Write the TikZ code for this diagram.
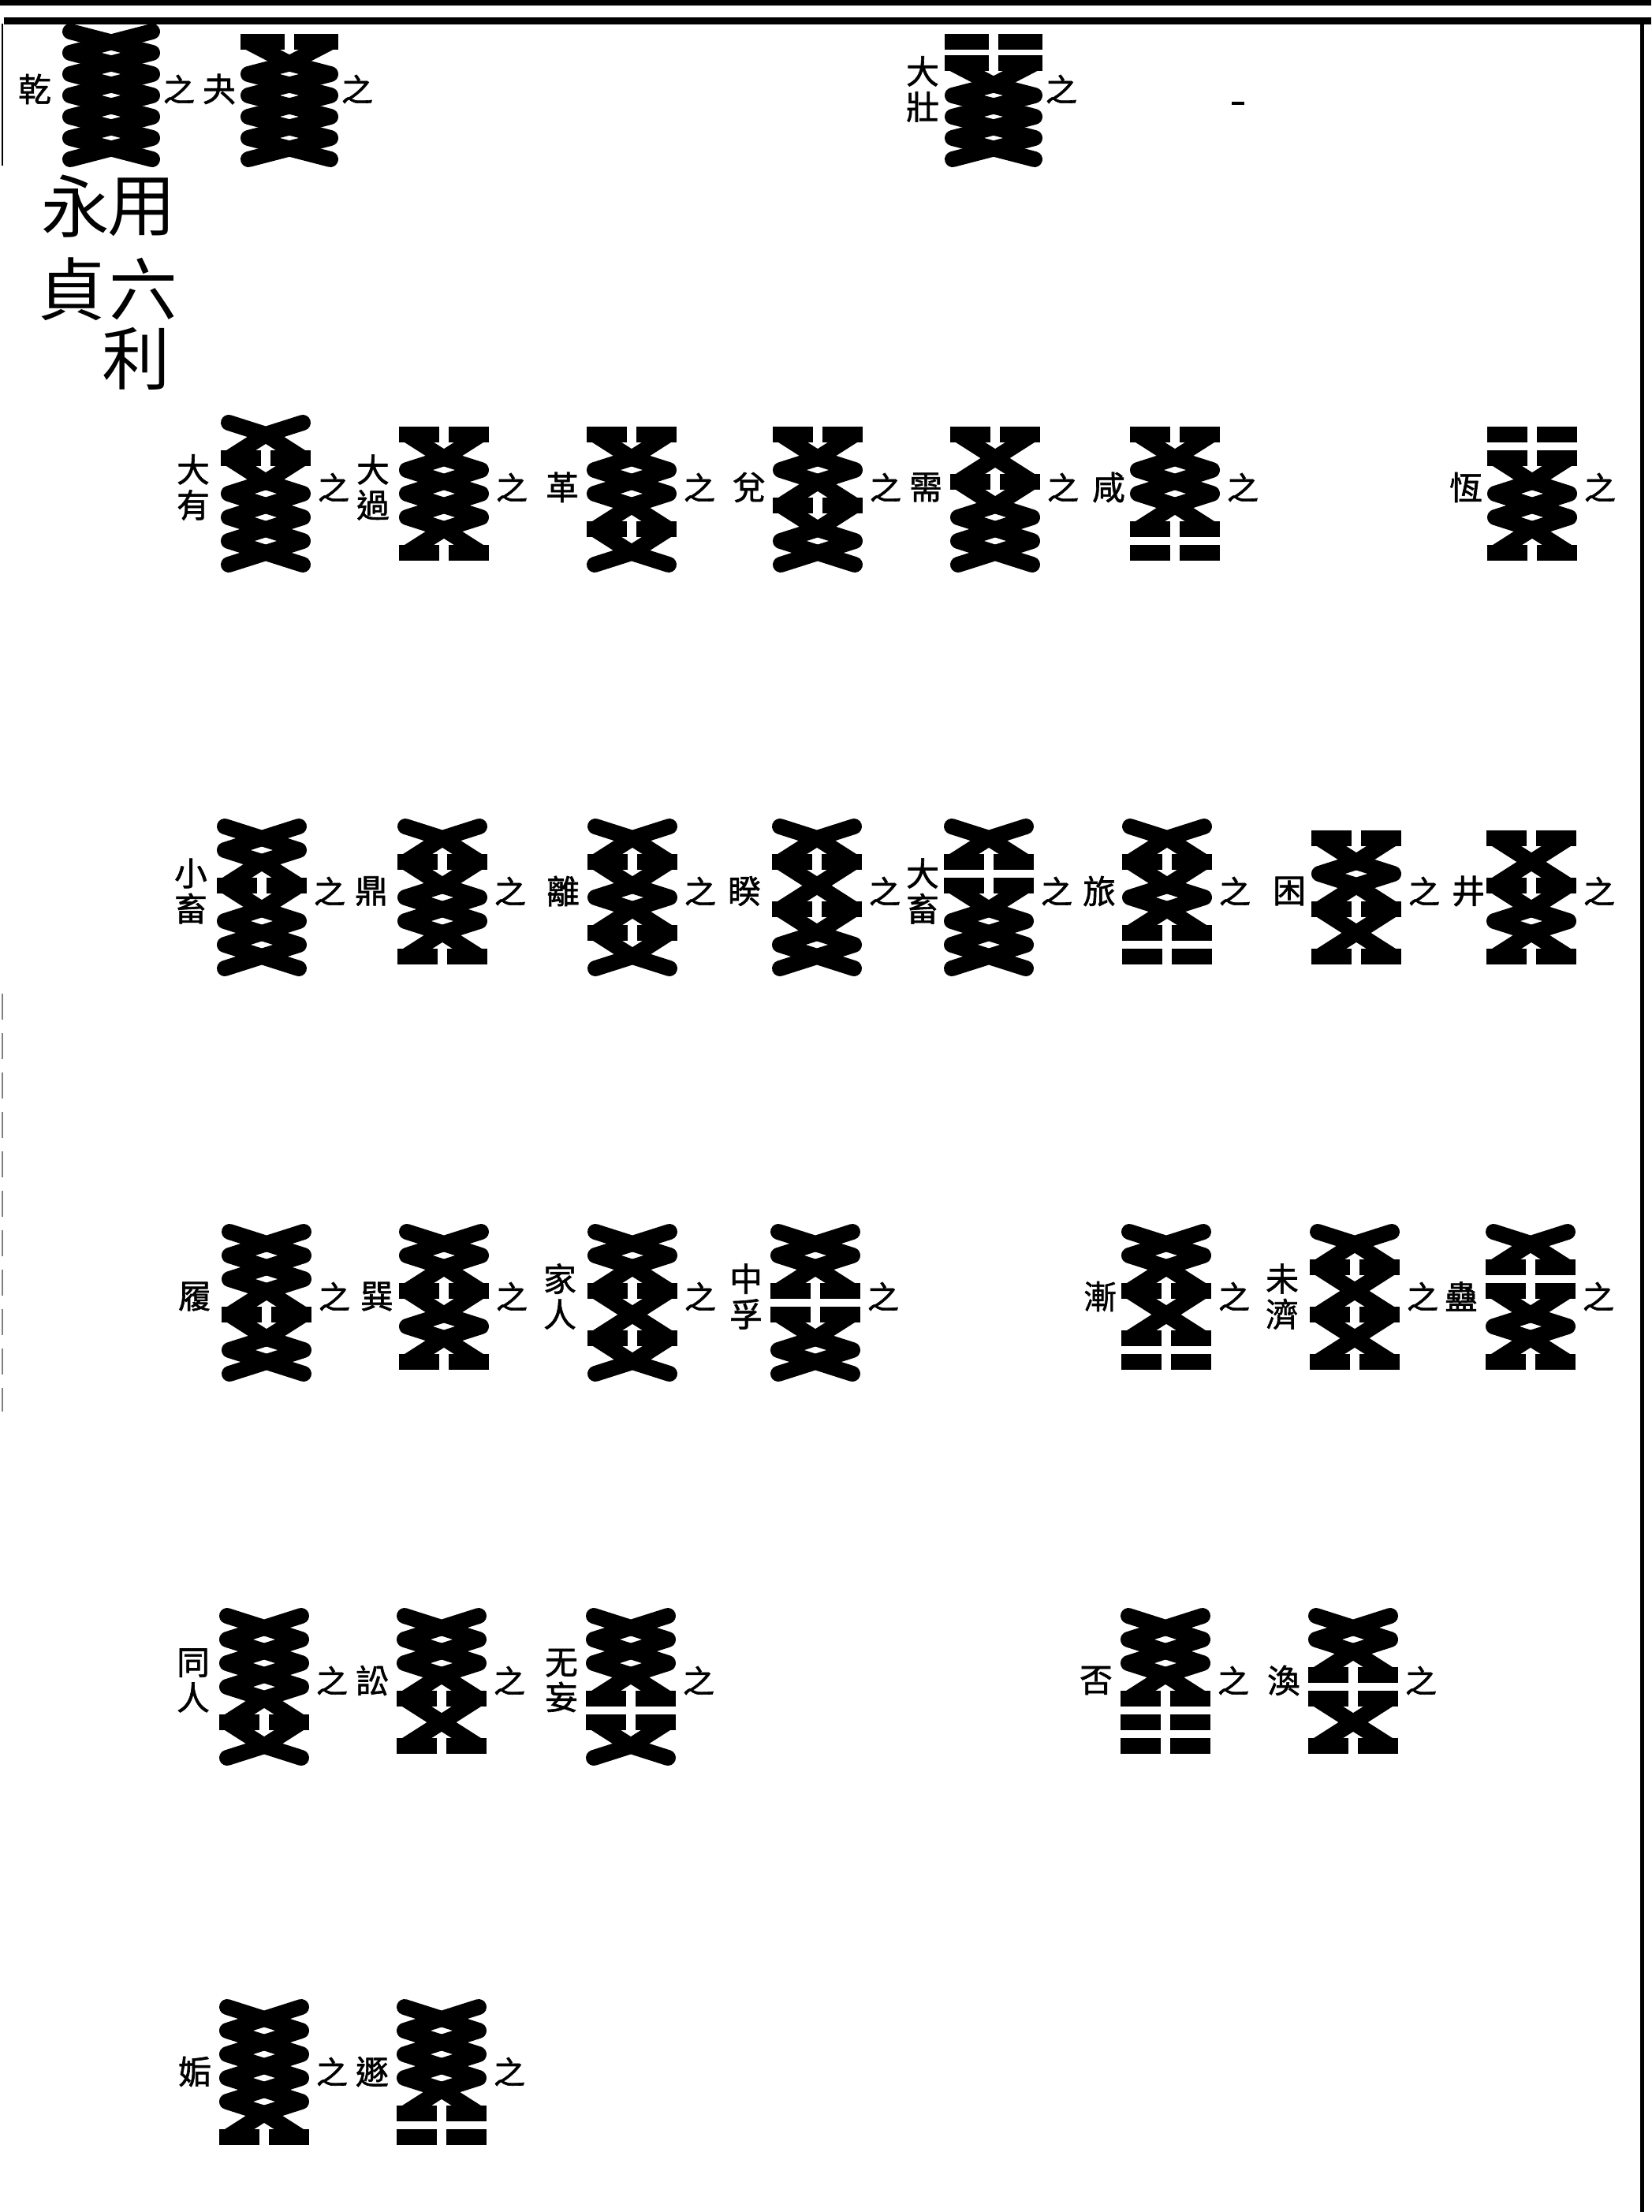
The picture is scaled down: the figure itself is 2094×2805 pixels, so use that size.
\documentclass[tikz,border=0pt]{standalone}
\usepackage{fontspec}
\newfontfamily\cjk{Noto Sans CJK TC}
\newfontfamily\cjkb[FakeBold=1.5]{Noto Sans CJK TC}
\tikzset{
  strand/.style={line width=6pt, line join=round, line cap=round},
  hbar/.style={line width=6pt, line cap=butt},
  lab/.style={font=\cjkb\fontsize{12.5}{13.5}\selectfont, inner sep=0pt, align=center},
  zhi/.style={font=\cjkb\fontsize{12}{13}\selectfont, inner sep=0pt},
  bigc/.style={font=\cjk\fontsize{26}{26}\selectfont, inner sep=0pt},
  hexbox/.style={inner sep=0pt, minimum size=0pt},
  rule/.style={line width=2.5pt}
}
\def\hxX{x}
\def\hxparse#1#2#3#4#5#6{%
  \expandafter\def\csname hxt1\endcsname{#1}%
  \expandafter\def\csname hxt2\endcsname{#2}%
  \expandafter\def\csname hxt3\endcsname{#3}%
  \expandafter\def\csname hxt4\endcsname{#4}%
  \expandafter\def\csname hxt5\endcsname{#5}%
  \expandafter\def\csname hxt6\endcsname{#6}}
% #1 name, #2 centre x, #3 top y, #4 pattern (top to bottom, x = crossed, n = broken bar)
\newcommand\hxglyph[4]{%
  \hxparse#4%
  \begin{scope}[shift={(#2,#3)}]
    \pgfmathsetmacro\hxw{\hxW/2}%
    \pgfmathsetmacro\hxd{\hxD}%
    \node[hexbox] (#1) at (0,3*\hxd) {};
    \foreach \k in {1,...,6}{%
      \pgfmathsetmacro\yk{(\k-0.5)*\hxd}%
      \expandafter\ifx\csname hxt\k\endcsname\hxX\else
        \draw[hbar] (-\hxw-10,\yk) -- (-6,\yk);
        \draw[hbar] (6,\yk) -- (\hxw+10,\yk);
      \fi}
    \foreach \k in {1,...,5}{%
      \pgfmathtruncatemacro\j{\k+1}%
      \pgfmathsetmacro\ya{(\k-0.5)*\hxd}%
      \pgfmathsetmacro\yb{(\k+0.5)*\hxd}%
      \pgfmathsetmacro\ym{\k*\hxd}%
      \expandafter\ifx\csname hxt\k\endcsname\hxX
        \expandafter\ifx\csname hxt\j\endcsname\hxX
          \draw[strand] (0,\ya) -- (-\hxw,\ym) -- (0,\yb);
          \draw[strand] (0,\ya) -- (\hxw,\ym) -- (0,\yb);
        \else
          \draw[strand] (0,\ya) -- (-\hxw,\yb);
          \draw[strand] (0,\ya) -- (\hxw,\yb);
        \fi
      \else
        \expandafter\ifx\csname hxt\j\endcsname\hxX
          \draw[strand] (-\hxw,\ya) -- (0,\yb);
          \draw[strand] (\hxw,\ya) -- (0,\yb);
        \fi
      \fi}
    \expandafter\ifx\csname hxt1\endcsname\hxX
      \draw[strand] (-\hxw,0) -- (0,0.5*\hxd) -- (\hxw,0);
    \fi
    \expandafter\ifx\csname hxt6\endcsname\hxX
      \draw[strand] (-\hxw,6*\hxd) -- (0,5.5*\hxd) -- (\hxw,6*\hxd);
    \fi
  \end{scope}}
% [#1 label offset] #2 id, #3 centre x, #4 top y, #5 pattern, #6 name
\newcommand\hxentry[6][-88]{%
  \hxglyph{g#2}{#3}{#4}{#5}%
  \pgfmathsetmacro\ey{#4+3*\hxD-8}%
  \node[lab] (l#2) at (#3+#1,\ey) {#6};
  \node[zhi] (z#2) at (#3+86,\ey) {之};}
\begin{document}
\begin{tikzpicture}[x=0.3pt,y=-0.3pt]
\useasboundingbox (0,0) rectangle (2094,2805);
% frame
\draw[rule] (0,3) -- (2094,3);
\draw[line width=2.7pt] (5,27) -- (2094,27);
\draw[line width=1.5pt] (2082,25) -- (2082,2805);
\draw[line width=0.5pt] (3,30) -- (3,210);
\draw[line width=0.5pt, gray, dash pattern=on 10pt off 5pt] (3,1260) -- (3,1790);
\draw[line width=1.2pt] (1562,131) -- (1578,131);
% row 0
\def\hxW{104}\def\hxD{27}
\hxentry[-97]{a1}{141}{40}{xxxxxx}{乾}
\hxentry[-89]{a2}{367}{40}{nxxxxx}{夬}
\hxentry[-90]{a3}{1260}{40}{nnxxxx}{大\\壯}
% text
\node[bigc] (t1) at (96,262) {永};
\node[bigc] (t2) at (91,367) {貞};
\node[bigc] (t3) at (180,263) {用};
\node[bigc] (t4) at (182,367) {六};
\node[bigc] (t5) at (173,455) {利};
% row 1
\def\hxW{94}\def\hxD{30}
\hxentry[-92]{b1}{337}{536}{xnxxxx}{大\\有}
\hxentry[-90]{b2}{563}{536}{nxxxxn}{大\\過}
\hxentry{b3}{801}{536}{nxxxnx}{革}
\hxentry[-87]{b4}{1037}{536}{nxxnxx}{兌}
\hxentry{b5}{1262}{536}{nxnxxx}{需}
\hxentry[-84]{b6}{1490}{536}{nxxxnn}{咸}
\hxentry[-84]{b7}{1943}{536}{nnxxxn}{恆}
% row 2
\hxentry[-90]{c1}{332}{1048}{xxnxxx}{小\\畜}
\hxentry[-90]{c2}{561}{1048}{xnxxxn}{鼎}
\hxentry{c3}{802}{1048}{xnxxnx}{離}
\hxentry[-92]{c4}{1036}{1048}{xnxnxx}{睽}
\hxentry[-84]{c5}{1254}{1048}{xnnxxx}{大\\畜}
\hxentry[-86]{c6}{1480}{1048}{xnxxnn}{旅}
\hxentry[-85]{c7}{1720}{1048}{nxxnxn}{困}
\hxentry[-80]{c8}{1942}{1048}{nxnxxn}{井}
% row 3
\hxentry[-91]{d1}{338}{1562}{xxxnxx}{履}
\hxentry[-85]{d2}{563}{1562}{xxnxxn}{巽}
\hxentry[-92]{d3}{802}{1562}{xxnxnx}{家\\人}
\hxentry{d4}{1034}{1562}{xxnnxx}{中\\孚}
\hxentry[-84]{d5}{1479}{1562}{xxnxnn}{漸}
\hxentry[-92]{d6}{1718}{1562}{xnxnxn}{未\\濟}
\hxentry{d7}{1941}{1562}{xnnxxn}{蠱}
% row 4
\hxentry[-90]{e1}{335}{2049}{xxxxnx}{同\\人}
\hxentry{e2}{560}{2049}{xxxnxn}{訟}
\hxentry{e3}{800}{2049}{xxxnnx}{无\\妄}
\hxentry{e4}{1478}{2049}{xxxnnn}{否}
\hxentry{e5}{1716}{2049}{xxnnxn}{渙}
% row 5
\hxentry{f1}{335}{2545}{xxxxxn}{姤}
\hxentry{f2}{560}{2545}{xxxxnn}{遯}
\end{tikzpicture}
\end{document}
